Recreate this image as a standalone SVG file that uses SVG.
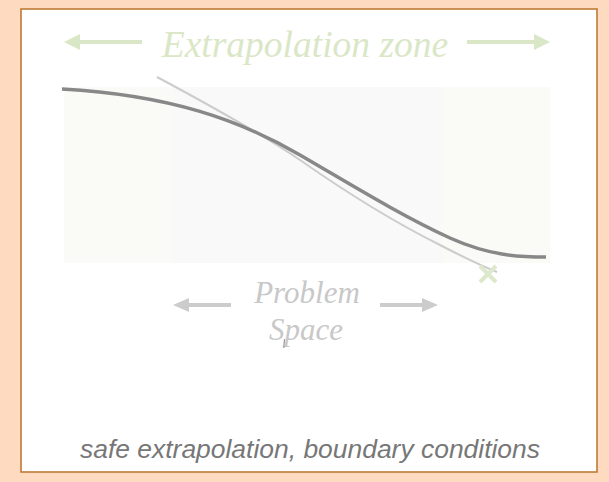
<svg xmlns="http://www.w3.org/2000/svg" width="609" height="482" viewBox="0 0 609 482">
<style>
.green{fill:#DAE7C7}
.gline{stroke:#DAE7C7;stroke-width:4;fill:none}
.grey{fill:#CCCCCC}
.gyline{stroke:#CCCCCC;stroke-width:4;fill:none}
.ttl{font-family:"Liberation Serif",serif;font-style:italic}
</style>
<rect x="0" y="0" width="609" height="482" fill="#FEDBC0"/>
<rect x="21" y="9" width="576" height="463" fill="#FFFFFF" stroke="#BF7A35" stroke-width="1.6"/>
<g id="zones">
<rect x="64" y="87" width="486" height="176" fill="#FAFBF7"/>
<rect x="174" y="87" width="268" height="176" fill="#F9F9F9"/>
</g>
<g id="extrapolation-label">
<line class="gline" x1="79" y1="42" x2="142" y2="42"/>
<polygon class="green" points="64,42 80,34 80,50"/>
<line class="gline" x1="467" y1="42" x2="534" y2="42"/>
<polygon class="green" points="550,42 534,34 534,50"/>
<text class="ttl" x="305" y="57" font-size="37.5" fill="#DAE7C7" text-anchor="middle">Extrapolation zone</text>
</g>
<g id="connectors">
<path d="M157,77 C200,100 260,133 300,160 C350,195 400,225 440,245 C465,258 482,266 497,272" fill="none" stroke="#CCCCCC" stroke-width="2"/>
<path d="M62,89 C170,95 240,120 300,155 C350,184 400,215 450,238 C490,256 520,257 546,257" fill="none" stroke="#888888" stroke-width="3.5"/>
</g>
<g id="boundary-mark">
<path d="M480,266 L496,282 M496,266 L480,282" stroke="#DDE8CC" stroke-width="4" fill="none"/>
</g>
<g id="problem-space">
<line class="gyline" x1="188" y1="305" x2="231" y2="305"/>
<polygon class="grey" points="173,305 189,298 189,312"/>
<line class="gyline" x1="380" y1="305" x2="423" y2="305"/>
<polygon class="grey" points="438,305 422,298 422,312"/>
<text class="ttl" x="307" y="303" font-size="31" fill="#C8C8C8" text-anchor="middle">Problem</text>
<text class="ttl" x="306" y="340" font-size="31" fill="#C8C8C8" text-anchor="middle">Space</text>
<line x1="284.5" y1="339" x2="283.8" y2="348" stroke="#999999" stroke-width="1.2"/>
</g>
<g id="caption">
<text x="310" y="458" font-family="Liberation Sans, Arial, sans-serif" font-style="italic" font-size="25" fill="#777777" text-anchor="middle" textLength="460" lengthAdjust="spacingAndGlyphs">safe extrapolation, boundary conditions</text>
</g>
</svg>
